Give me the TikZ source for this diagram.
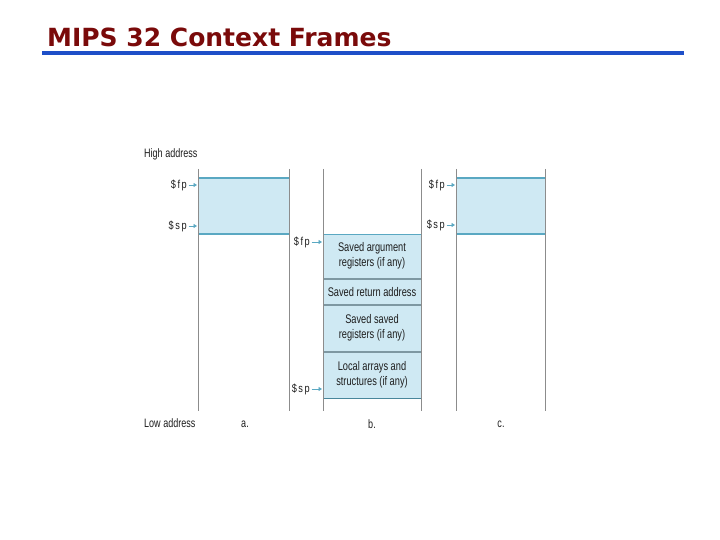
\documentclass[tikz,border=0pt]{standalone}
\usepackage{fontspec}
\usetikzlibrary{arrows.meta}
\newfontfamily\condf[FakeStretch=0.74]{Liberation Sans}
\newfontfamily\regf[FakeStretch=0.8,LetterSpace=14]{Liberation Sans}
\newfontfamily\titlef{DejaVu Sans}
\definecolor{titlered}{HTML}{7A0A0A}
\definecolor{barblue}{HTML}{1E4FC8}
\definecolor{framefill}{HTML}{CFE9F3}
\definecolor{ptrline}{HTML}{5AA8C2}
\definecolor{sepgray}{HTML}{7E98A2}
\definecolor{vgray}{HTML}{8C8C8C}
\definecolor{txtgray}{HTML}{1E1E1E}
\tikzset{
  vline/.style={draw=vgray, line width=0.9pt},
  frame/.style={fill=framefill, draw=none},
  ptr/.style={draw=ptrline, line width=1.8pt},
  sep/.style={draw=sepgray, line width=1.8pt},
  lbl/.style={font=\condf\fontsize{12.2}{13}\selectfont, text=txtgray, inner sep=0pt},
  reglbl/.style={font=\regf\fontsize{11.5}{13}\selectfont, text=txtgray, inner sep=0pt, anchor=east},
  arr/.style={draw=ptrline, line width=0.9pt, -{Triangle[length=3.5pt,width=4pt]}},
  boxtxt/.style={font=\condf\fontsize{12.5}{15}\selectfont, text=txtgray, align=center, inner sep=0pt}
}
\begin{document}
\begin{tikzpicture}[x=1pt,y=-1pt]
\useasboundingbox[fill=white] (0,0) rectangle (720,540);
% title
\node[anchor=base west, inner sep=0pt, text=titlered, font=\titlef\bfseries\fontsize{25}{28}\selectfont] (title) at (47,47) {MIPS 32 Context Frames};
\fill[barblue] (42,51.5) rectangle (684,55.5);

% column a
\fill[frame] (198,178) rectangle (289,234);
\draw[ptr] (198,178) -- (289,178);
\draw[ptr] (198,234) -- (289,234);
\draw[vline] (198,169) -- (198,411);
\draw[vline] (289,169) -- (289,411);

% column c
\fill[frame] (456,178) rectangle (545,234);
\draw[ptr] (456,178) -- (545,178);
\draw[ptr] (456,234) -- (545,234);
\draw[vline] (456,169) -- (456,411);
\draw[vline] (545,169) -- (545,411);

% column b
\fill[frame] (323,234) rectangle (421,399);
\draw[ptr] (323,234.5) -- (421,234.5);
\draw[sep] (323,279) -- (421,279);
\draw[sep] (323,305) -- (421,305);
\draw[sep] (323,352) -- (421,352);
\draw[draw=ptrline!80!black, line width=1.8pt] (323,398.5) -- (421,398.5);
\draw[vline] (323,169) -- (323,411);
\draw[vline] (421,169) -- (421,411);

\node[boxtxt] (b1) at (372,256) {Saved argument\\registers (if any)};
\node[boxtxt] (b2) at (372,292) {Saved return address};
\node[boxtxt] (b3) at (372,328) {Saved saved\\registers (if any)};
\node[boxtxt] (b4) at (372,375) {Local arrays and\\structures (if any)};

% labels
\node[lbl, anchor=west] (high) at (144,154) {High address};
\node[lbl, anchor=west] (low) at (144,423) {Low address};
\node[lbl] (la) at (245,424) {a.};
\node[lbl] (lb) at (372,424) {b.};
\node[lbl] (lc) at (501,424) {c.};

% pointers
\node[reglbl] (fpa) at (187,185) {\$fp};
\node[reglbl] (spa) at (187,226) {\$sp};
\node[reglbl] (fpb) at (310,242) {\$fp};
\node[reglbl] (spb) at (310,389) {\$sp};
\node[reglbl] (fpc) at (445,185) {\$fp};
\node[reglbl] (spc) at (445,225) {\$sp};
\coordinate (fpaT) at (197,185);
\coordinate (spaT) at (197,226);
\coordinate (fpbT) at (322,242);
\coordinate (spbT) at (322,389);
\coordinate (fpcT) at (455,185);
\coordinate (spcT) at (455,225);
\draw[arr] (fpa.east) ++(1.5,0) -- (fpaT);
\draw[arr] (spa.east) ++(1.5,0) -- (spaT);
\draw[arr] (fpb.east) ++(1.5,0) -- (fpbT);
\draw[arr] (spb.east) ++(1.5,0) -- (spbT);
\draw[arr] (fpc.east) ++(1.5,0) -- (fpcT);
\draw[arr] (spc.east) ++(1.5,0) -- (spcT);
\end{tikzpicture}
\end{document}
